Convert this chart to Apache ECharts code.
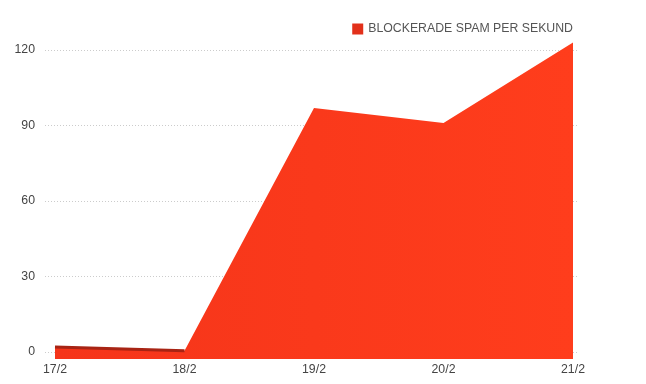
<!DOCTYPE html>
<html>
<head>
<meta charset="utf-8">
<script src="https://cdn.jsdelivr.net/npm/echarts@6/dist/echarts.min.js"></script>
<style>html,body{margin:0;padding:0;background:#fff;}#c{width:646px;height:384px;}</style>
</head>
<body>
<div id="c"></div>
<script>
var categories = ["17/2", "18/2", "19/2", "20/2", "21/2"];
var spamValues = [2, 0.5, 97, 91, 123];
var edgeValues = [2, 0.5, '-', '-', '-'];
var yTicks = { min: 0, max: 120, interval: 30 };
var seriesName = "BLOCKERADE SPAM PER SEKUND";

var chart = echarts.init(document.getElementById('c'));
var font = 'Liberation Sans, Arial, Helvetica, sans-serif';
chart.setOption({
  animation: false,
  legend: {
    data: [seriesName],
    right: 68, top: 18,
    itemWidth: 11, itemHeight: 11, itemGap: 7,
    icon: 'rect',
    textStyle: { color: '#555', fontSize: 12.3, fontFamily: font },
    itemStyle: { color: '#e2301a' }
  },
  grid: [
    { left: 45, right: 69, top: 50, bottom: 32 },
    { left: 55, right: 73, top: 50, bottom: 32 }
  ],
  xAxis: [
    { type: 'category', gridIndex: 0, data: categories, show: false },
    {
      type: 'category', gridIndex: 1, data: categories, boundaryGap: false,
      axisLine: { show: false }, axisTick: { show: false },
      axisLabel: { color: '#444', fontSize: 12.3, fontFamily: font, margin: 12 }
    }
  ],
  yAxis: [
    {
      type: 'value', gridIndex: 0, min: yTicks.min, max: yTicks.max, interval: yTicks.interval,
      axisLine: { show: false }, axisTick: { show: false },
      axisLabel: { color: '#444', fontSize: 12.3, fontFamily: font, margin: 10 },
      splitLine: { lineStyle: { color: '#ccc', type: [1, 2], width: 1 } }
    },
    {
      type: 'value', gridIndex: 1, min: yTicks.min, max: yTicks.max, interval: yTicks.interval,
      show: false, splitLine: { show: false }
    }
  ],
  series: [
    {
      name: seriesName, type: 'line', xAxisIndex: 1, yAxisIndex: 1,
      data: spamValues, symbol: 'none', clip: false,
      lineStyle: { width: 0 },
      itemStyle: { color: '#e2301a' },
      areaStyle: {
        origin: -2.8,
        opacity: 1,
        color: { type: 'linear', x: 0, y: 0, x2: 1, y2: 0,
          colorStops: [{ offset: 0, color: '#f5351a' }, { offset: 1, color: '#ff3d1c' }] }
      }
    },
    {
      name: 'edge', type: 'line', xAxisIndex: 1, yAxisIndex: 1,
      data: edgeValues, symbol: 'none', clip: false, silent: true,
      lineStyle: { width: 3, color: '#a82414' }
    }
  ]
});
</script>
</body>
</html>
